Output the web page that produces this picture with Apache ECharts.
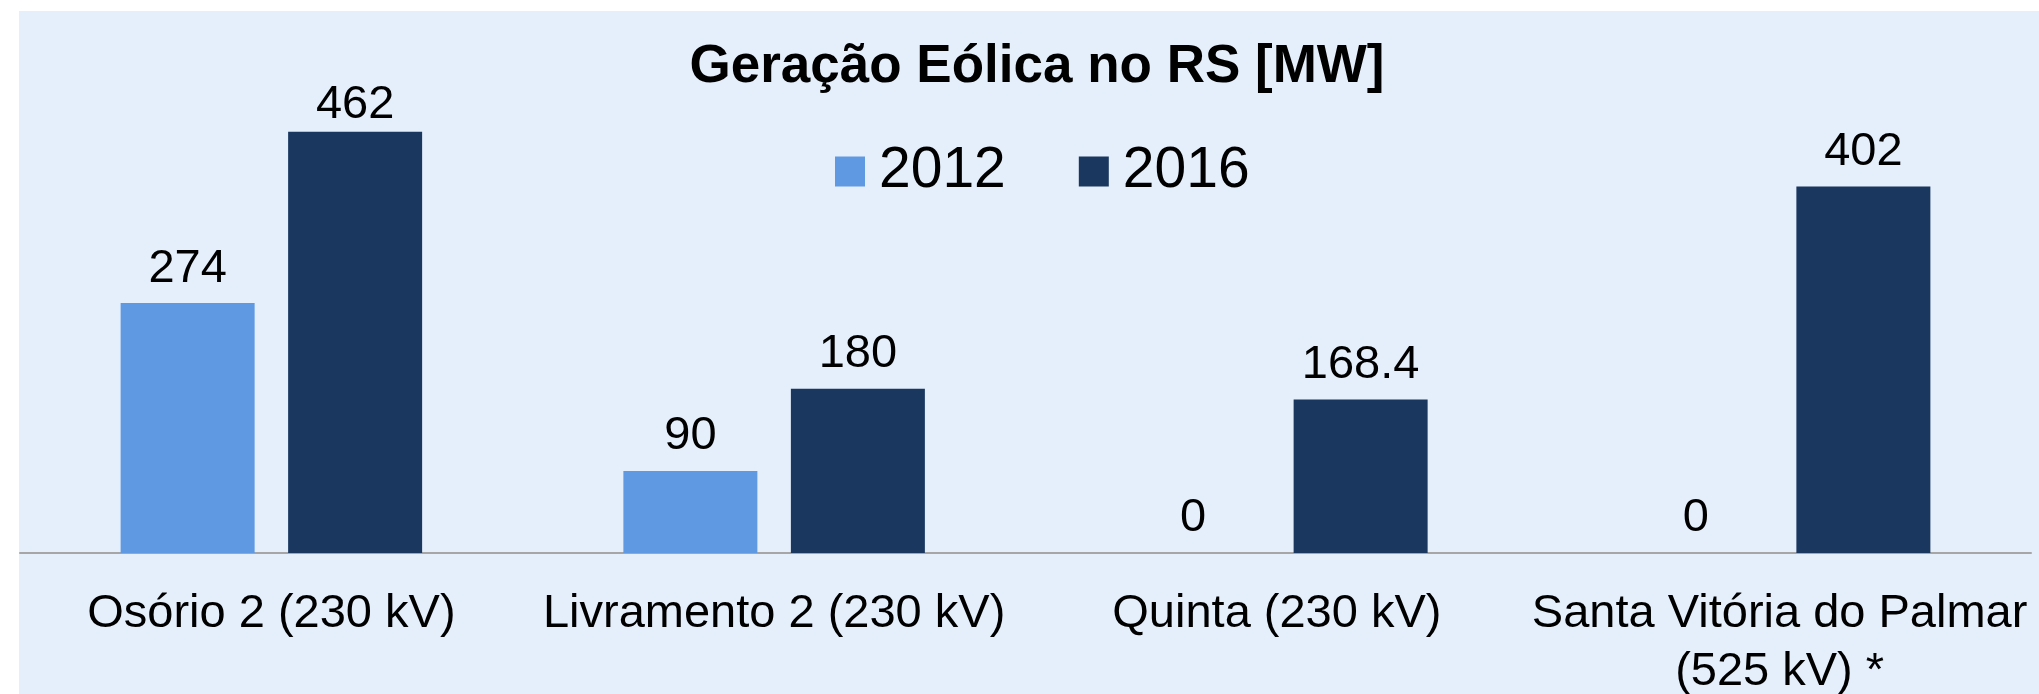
<!DOCTYPE html>
<html>
<head>
<meta charset="utf-8">
<script src="https://cdn.jsdelivr.net/npm/echarts@6/dist/echarts.min.js"></script>
<style>
html,body{margin:0;padding:0;background:#ffffff;}
#chart{width:2039px;height:694px;}
</style>
</head>
<body>
<div id="chart"></div>
<script>
const categories = ['Osório 2 (230 kV)', 'Livramento 2 (230 kV)', 'Quinta (230 kV)', 'Santa Vitória do Palmar\n(525 kV) *'];
const seriesNames = ['2012', '2016'];
const values2012 = [274, 90, 0, 0];
const values2016 = [462, 180, 168.4, 402];
const titleText = 'Geração Eólica no RS [MW]';

const FONT = '"Liberation Sans", Arial, Helvetica, sans-serif';
const Y_MAX = 500;
const chart = echarts.init(document.getElementById('chart'), null, {renderer: 'canvas'});

// Labels near the top of the plot area are pushed down (as in the original spreadsheet chart)
function toData(arr) {
  return arr.map(v => ({value: v, label: {distance: v > Y_MAX * 0.9 ? 3 : 11}}));
}

const labelStyle = {show: true, position: 'top', fontFamily: FONT, fontSize: 47, color: '#000000', lineHeight: 47};

const option = {
  backgroundColor: '#ffffff',
  animation: false,
  graphic: [{
    type: 'rect', z: -10, silent: true,
    shape: {x: 19, y: 11, width: 2039 - 19, height: 694 - 11},
    style: {fill: '#E5EFFB'}
  }],
  title: {
    text: titleText,
    left: 1032, top: 36,
    textAlign: 'center',
    textStyle: {fontFamily: FONT, fontSize: 53, fontWeight: 'bold', color: '#000000', lineHeight: 53}
  },
  legend: {
    data: seriesNames,
    left: 830, top: 138,
    itemWidth: 30, itemHeight: 30,
    itemGap: 73,
    icon: 'rect',
    textStyle: {fontFamily: FONT, fontSize: 57, color: '#000000', lineHeight: 57, padding: [0, 0, 0, 9]}
  },
  grid: {left: 20, right: 8, top: 97, bottom: 141, containLabel: false, outerBoundsMode: 'none'},
  xAxis: {
    type: 'category',
    data: categories,
    axisLine: {show: true, lineStyle: {color: '#A6A6A6', width: 2}},
    axisTick: {show: false},
    axisLabel: {interval: 0, margin: 32, fontFamily: FONT, fontSize: 47, color: '#000000', lineHeight: 58}
  },
  yAxis: {
    type: 'value', min: 0, max: Y_MAX,
    show: false,
    splitLine: {show: false}
  },
  series: [
    {
      name: seriesNames[0], type: 'bar', data: toData(values2012),
      barWidth: 134, barGap: '25%',
      itemStyle: {color: '#5F99E1'},
      label: labelStyle
    },
    {
      name: seriesNames[1], type: 'bar', data: toData(values2016),
      barWidth: 134, barGap: '25%',
      itemStyle: {color: '#1A375F'},
      label: labelStyle
    }
  ]
};
chart.setOption(option);
</script>
</body>
</html>
